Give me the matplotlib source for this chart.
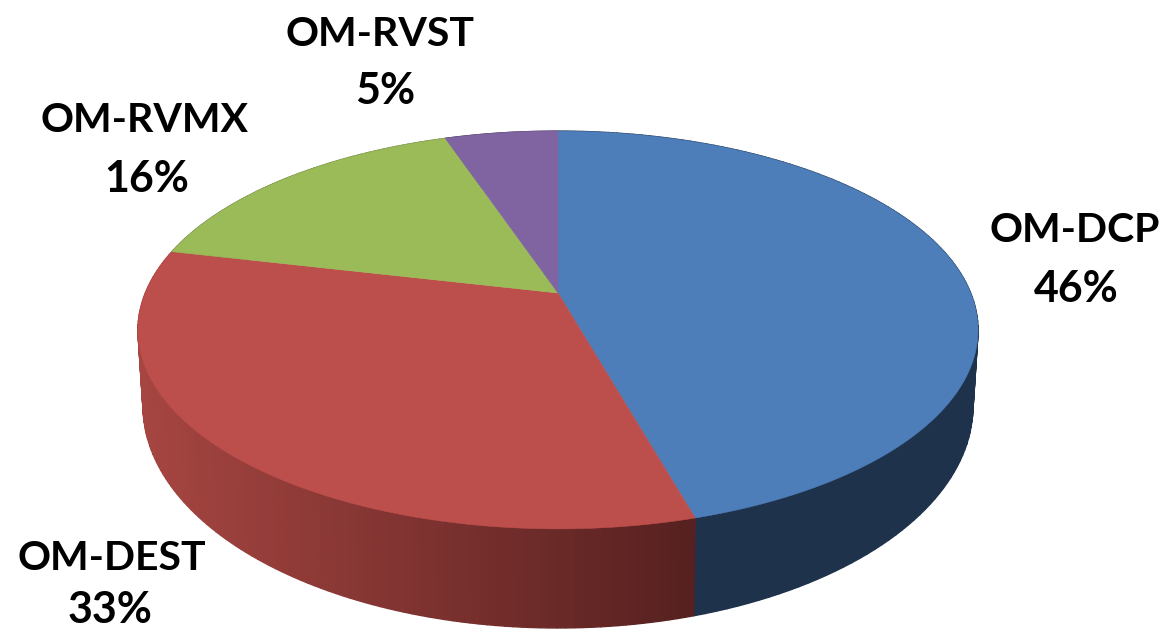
import numpy as np
import matplotlib
matplotlib.use("Agg")
import matplotlib.pyplot as plt
from matplotlib.colors import LinearSegmentedColormap, Normalize

# data
names = ["OM-DCP", "OM-DEST", "OM-RVMX", "OM-RVST"]
values = [45.6, 33.0, 16.2, 5.2]

# look
top_colors = ["#4D7EB9", "#BC4E4B", "#9BBB59", "#8064A2"]
wall_left = ["#1E324C", "#A64541", "#6E8340", "#5A4672"]
wall_right = ["#1E324C", "#55201F", "#6E8340", "#5A4672"]
name_xy = [(1075, 231), (112, 559), (144, 121), (380, 34)]
pct_xy = [(1076, 289), (110, 610), (147, 179), (385, 91)]

# perspective of the disc, in pixels of the picture
K = 0.186
CX = 558
TOP_R, TOP_A, TOP_Y = 412.7, 192, 293
BOT_R, BOT_A, BOT_Y = 407.7, 214.3, 364.7
W, H = 1162, 631


def project(theta, R, A, y0):  # theta clockwise from 12 o'clock
    u, v = np.sin(theta), np.cos(theta)
    return CX + R * u / (1 + K * v), y0 - A * v / (1 + K * v)


fig = plt.figure(figsize=(W / 100, H / 100), dpi=100, facecolor="white")
ax = fig.add_axes([0, 0, 1, 1])
ax.set_xlim(0, W)
ax.set_ylim(H, 0)
ax.axis("off")

edges = np.concatenate([[0], np.cumsum(values)]) / np.sum(values) * 2 * np.pi
norm = Normalize(140, 700)

# side wall first, the top covers the back part of it
for i in range(len(values)):
    cmap = LinearSegmentedColormap.from_list("w", [wall_left[i], wall_right[i]])
    t = np.linspace(edges[i], edges[i + 1], 120)
    xt, yt = project(t, TOP_R, TOP_A, TOP_Y)
    xb, yb = project(t, BOT_R, BOT_A, BOT_Y)
    for j in range(len(t) - 1):
        c = cmap(norm((xt[j] + xt[j + 1]) / 2))
        ax.fill([xt[j], xt[j + 1], xb[j + 1], xb[j]],
                [yt[j], yt[j + 1], yb[j + 1], yb[j]],
                color=c, lw=1.0, zorder=1)

# top of the pie
for i in range(len(values)):
    t = np.linspace(edges[i], edges[i + 1], 200)
    x, y = project(t, TOP_R, TOP_A, TOP_Y)
    ax.fill(np.r_[CX, x], np.r_[TOP_Y, y], color=top_colors[i], lw=0.4, zorder=2)

# labels
for i in range(len(values)):
    ax.text(name_xy[i][0], name_xy[i][1], names[i], family="Lato", weight="bold",
            fontsize=29.5, color="black", ha="center", va="center", zorder=3)
    ax.text(pct_xy[i][0], pct_xy[i][1], f"{values[i]:.0f}%", family="Lato", weight="bold",
            fontsize=31, color="black", ha="center", va="center", zorder=3)

fig.savefig("out.png", dpi=100, facecolor="white")
